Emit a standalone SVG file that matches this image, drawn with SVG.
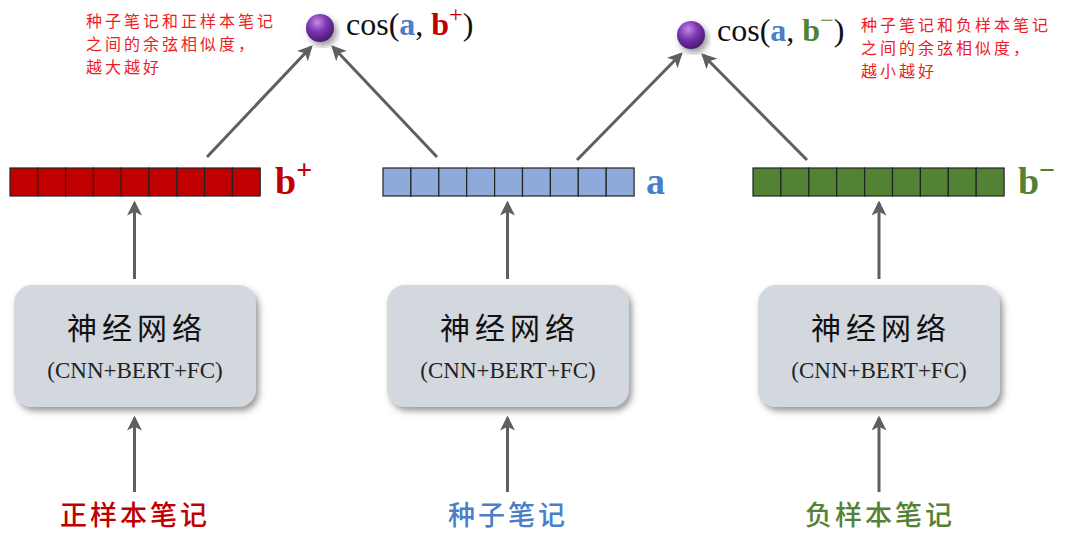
<svg xmlns="http://www.w3.org/2000/svg" width="1071" height="539" viewBox="0 0 1071 539">
<defs>
<style>
.conn{stroke:#5f5f5f;stroke-width:3;fill:none;marker-end:url(#ah)}
.box{fill:#d3d7de}
.nn{font-family:"Noto Sans CJK SC",sans-serif;font-size:30px;fill:#111;text-anchor:middle;letter-spacing:5px}
.sub{font-family:"Liberation Serif",serif;font-size:23px;fill:#222;text-anchor:middle}
.note{font-family:"Noto Sans CJK SC",sans-serif;font-size:16px;fill:#ee1c24;letter-spacing:3px}
.lbl{font-family:"Noto Sans CJK SC",sans-serif;font-size:27px;font-weight:500;text-anchor:middle;letter-spacing:3px}
.vec{font-family:"Liberation Serif",serif;font-size:38px;font-weight:bold}
.cos{font-family:"Liberation Serif",serif;font-size:32px;fill:#111}
.cell{stroke:#222;stroke-width:1.2}
</style>
<marker id="ah" viewBox="0 0 12 12" refX="10" refY="6" markerWidth="5" markerHeight="5" orient="auto" markerUnits="strokeWidth">
<path d="M0,0 L12,6 L0,12 L3,6 Z" fill="#5f5f5f"/>
</marker>
<radialGradient id="sph" cx="0.4" cy="0.3" r="0.7">
<stop offset="0" stop-color="#c48ae6"/>
<stop offset="0.5" stop-color="#7a34b0"/>
<stop offset="1" stop-color="#4a1a72"/>
</radialGradient>
<filter id="sh" x="-20%" y="-20%" width="140%" height="140%">
<feDropShadow dx="3" dy="4" stdDeviation="3" flood-color="#555" flood-opacity="0.6"/>
</filter>
</defs>

<g id="connectors">
<line class="conn" x1="207" y1="157" x2="311" y2="47"/>
<line class="conn" x1="437" y1="157" x2="333" y2="47"/>
<line class="conn" x1="577" y1="160" x2="681" y2="54"/>
<line class="conn" x1="807" y1="160" x2="703" y2="55"/>
<line class="conn" x1="134.5" y1="279" x2="134.5" y2="203"/>
<line class="conn" x1="507.5" y1="279" x2="507.5" y2="203"/>
<line class="conn" x1="879" y1="279" x2="879" y2="203"/>
<line class="conn" x1="134.5" y1="492" x2="134.5" y2="418"/>
<line class="conn" x1="507.5" y1="492" x2="507.5" y2="418"/>
<line class="conn" x1="879" y1="492" x2="879" y2="418"/>
</g>

<g id="sim-pos">
<circle cx="320" cy="28" r="14" fill="url(#sph)" filter="url(#sh)"/>
<text class="cos" x="346" y="35">cos(<tspan fill="#4a7fc8" font-weight="bold">a</tspan>, <tspan fill="#c00000" font-weight="bold">b</tspan><tspan fill="#c00000" font-size="24" dy="-13">+</tspan><tspan dy="13">)</tspan></text>
</g>
<g id="sim-neg">
<circle cx="691" cy="35" r="14" fill="url(#sph)" filter="url(#sh)"/>
<text class="cos" x="717" y="41">cos(<tspan fill="#4a7fc8" font-weight="bold">a</tspan>, <tspan fill="#548235" font-weight="bold">b</tspan><tspan fill="#548235" font-size="24" dy="-13">−</tspan><tspan dy="13">)</tspan></text>
</g>

<g id="note-pos">
<text class="note" x="86" y="27">种子笔记和正样本笔记</text>
<text class="note" x="86" y="50">之间的余弦相似度，</text>
<text class="note" x="86" y="73">越大越好</text>
</g>
<g id="note-neg">
<text class="note" x="861" y="31">种子笔记和负样本笔记</text>
<text class="note" x="861" y="54">之间的余弦相似度，</text>
<text class="note" x="861" y="77">越小越好</text>
</g>

<g id="vec-pos">
<g class="cell" fill="#c00000">
<rect x="10" y="168" width="27.8" height="28"/><rect x="37.8" y="168" width="27.8" height="28"/><rect x="65.6" y="168" width="27.8" height="28"/><rect x="93.4" y="168" width="27.8" height="28"/><rect x="121.2" y="168" width="27.8" height="28"/><rect x="149" y="168" width="27.8" height="28"/><rect x="176.8" y="168" width="27.8" height="28"/><rect x="204.6" y="168" width="27.8" height="28"/><rect x="232.4" y="168" width="27.8" height="28"/>
</g>
<text class="vec" x="275" y="194" fill="#c00000">b<tspan font-size="28" dy="-15">+</tspan></text>
</g>
<g id="vec-seed">
<g class="cell" fill="#8eaadb">
<rect x="383" y="168" width="27.9" height="28"/><rect x="410.9" y="168" width="27.9" height="28"/><rect x="438.8" y="168" width="27.9" height="28"/><rect x="466.7" y="168" width="27.9" height="28"/><rect x="494.6" y="168" width="27.9" height="28"/><rect x="522.5" y="168" width="27.9" height="28"/><rect x="550.4" y="168" width="27.9" height="28"/><rect x="578.3" y="168" width="27.9" height="28"/><rect x="606.2" y="168" width="27.9" height="28"/>
</g>
<text class="vec" x="646" y="194" fill="#4a7fc8">a</text>
</g>
<g id="vec-neg">
<g class="cell" fill="#548235">
<rect x="753" y="168" width="27.9" height="28"/><rect x="780.9" y="168" width="27.9" height="28"/><rect x="808.8" y="168" width="27.9" height="28"/><rect x="836.7" y="168" width="27.9" height="28"/><rect x="864.6" y="168" width="27.9" height="28"/><rect x="892.5" y="168" width="27.9" height="28"/><rect x="920.4" y="168" width="27.9" height="28"/><rect x="948.3" y="168" width="27.9" height="28"/><rect x="976.2" y="168" width="27.9" height="28"/>
</g>
<text class="vec" x="1018" y="194" fill="#548235">b<tspan font-size="28" dy="-15">−</tspan></text>
</g>

<g id="nn-pos">
<rect class="box" x="14" y="285" width="242" height="122" rx="18" filter="url(#sh)"/>
<text class="nn" x="137" y="339">神经网络</text>
<text class="sub" x="135" y="378">(CNN+BERT+FC)</text>
</g>
<g id="nn-seed">
<rect class="box" x="387" y="285" width="242" height="122" rx="18" filter="url(#sh)"/>
<text class="nn" x="510" y="339">神经网络</text>
<text class="sub" x="508" y="378">(CNN+BERT+FC)</text>
</g>
<g id="nn-neg">
<rect class="box" x="758" y="285" width="242" height="122" rx="18" filter="url(#sh)"/>
<text class="nn" x="881" y="339">神经网络</text>
<text class="sub" x="879" y="378">(CNN+BERT+FC)</text>
</g>

<g id="in-pos"><text class="lbl" x="135" y="525" fill="#c00000">正样本笔记</text></g>
<g id="in-seed"><text class="lbl" x="508" y="525" fill="#4a7fc8">种子笔记</text></g>
<g id="in-neg"><text class="lbl" x="880" y="525" fill="#548235">负样本笔记</text></g>
</svg>
